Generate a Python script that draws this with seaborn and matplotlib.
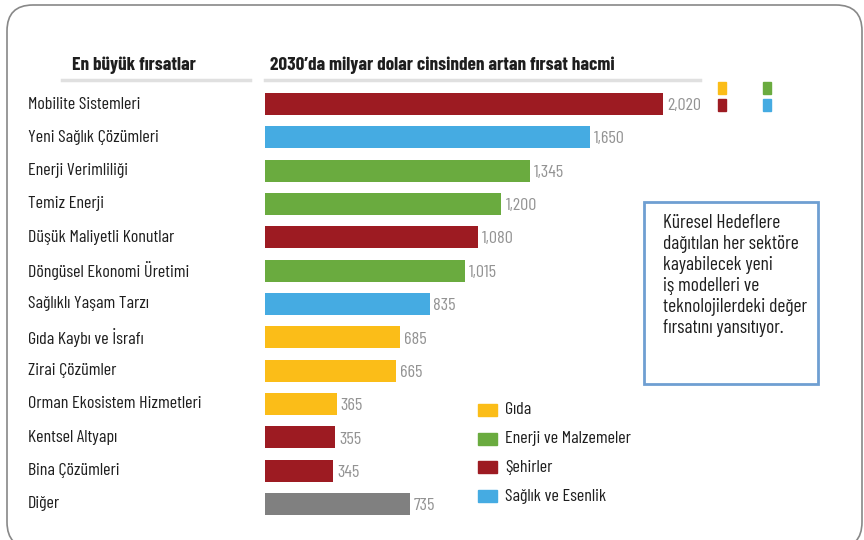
import matplotlib
matplotlib.use("Agg")
import matplotlib.pyplot as plt
from matplotlib.patches import FancyBboxPatch, Rectangle
import pandas as pd
import seaborn as sns

categories = [
    "Mobilite Sistemleri", "Yeni Sağlık Çözümleri", "Enerji Verimliliği",
    "Temiz Enerji", "Düşük Maliyetli Konutlar", "Döngüsel Ekonomi Üretimi",
    "Sağlıklı Yaşam Tarzı", "Gıda Kaybı ve İsrafı", "Zirai Çözümler",
    "Orman Ekosistem Hizmetleri", "Kentsel Altyapı", "Bina Çözümleri", "Diğer",
]
values = [2020, 1650, 1345, 1200, 1080, 1015, 835, 685, 665, 365, 355, 345, 735]
value_labels = ["2,020", "1,650", "1,345", "1,200", "1,080", "1,015", "835",
                "685", "665", "365", "355", "345", "735"]
sectors = ["Şehirler", "Sağlık ve Esenlik", "Enerji ve Malzemeler",
           "Enerji ve Malzemeler", "Şehirler", "Enerji ve Malzemeler",
           "Sağlık ve Esenlik", "Gıda", "Gıda", "Gıda", "Şehirler", "Şehirler",
           "Diğer"]
legend_names = ["Gıda", "Enerji ve Malzemeler", "Şehirler", "Sağlık ve Esenlik"]
colors = {"Gıda": "#fbbd18", "Enerji ve Malzemeler": "#6aab3f",
          "Şehirler": "#9d1b22", "Sağlık ve Esenlik": "#45abe2", "Diğer": "#808080"}

FONT = ["Barlow Condensed", "Roboto Condensed", "DejaVu Sans"]
plt.rcParams["font.family"] = FONT

df = pd.DataFrame({"kategori": categories, "deger": values, "sektor": sectors})

W, H = 864, 540
fig = plt.figure(figsize=(W / 100, H / 100), dpi=100)

def fx(px):
    return px / W

def fy(py):
    return 1 - py / H

ax = fig.add_axes([fx(265), fy(520.7), 1 - fx(265), fy(87.3) - fy(520.7)])
sns.barplot(data=df, y="kategori", x="deger", hue="sektor", palette=colors,
            dodge=False, width=0.66, saturation=1, legend=False, ax=ax)
ax.set_xlim(0, (W - 265) / (398 / 2020))
ax.set_ylim(len(categories) - 0.5, -0.5)
ax.axis("off")

for i, (v, lab) in enumerate(zip(values, value_labels)):
    ax.text(v + 20, i + 0.05, lab, va="center", ha="left", fontsize=13,
            color="#939393")

# category labels
for i, c in enumerate(categories):
    fig.text(fx(28), fy(104 + i * 33.33), c, ha="left", va="center",
             fontsize=13, color="#1e1e1e")

# headers
fig.text(fx(72), fy(65), "En büyük fırsatlar", ha="left", va="center",
         fontsize=13.8, fontweight="bold", color="#1e1e1e")
fig.text(fx(270), fy(65), "2030’da milyar dolar cinsinden artan fırsat hacmi",
         ha="left", va="center", fontsize=13.8, fontweight="bold", color="#1e1e1e")
fig.add_artist(plt.Line2D([fx(62), fx(250)], [fy(80), fy(80)], color="#e0e0e0", lw=2.5))
fig.add_artist(plt.Line2D([fx(265), fx(700)], [fy(80), fy(80)], color="#e0e0e0", lw=2.5))

# small colour squares top right
for (px, py), name in zip([(722, 88), (767, 88), (722, 105), (767, 105)],
                          ["Gıda", "Enerji ve Malzemeler", "Şehirler", "Sağlık ve Esenlik"]):
    fig.add_artist(Rectangle((fx(px - 4), fy(py + 6)), fx(8), 12 / H,
                             color=colors[name], transform=fig.transFigure))

# legend
for i, name in enumerate(legend_names):
    py = 410 + i * 28.7
    fig.add_artist(Rectangle((fx(478), fy(py + 6)), fx(19), 12 / H,
                             color=colors[name], transform=fig.transFigure))
    fig.text(fx(505), fy(py), name, ha="left", va="center", fontsize=13,
             color="#1e1e1e")

# note box
fig.add_artist(Rectangle((fx(644), fy(384)), fx(818 - 644), (384 - 202) / H,
                         fill=False, edgecolor="#6f9fd2", lw=2,
                         transform=fig.transFigure))
fig.text(fx(663), fy(214),
         "Küresel Hedeflere\ndağıtılan her sektöre\nkayabilecek yeni\n"
         "iş modelleri ve\nteknolojilerdeki değer\nfırsatını yansıtıyor.",
         ha="left", va="top", fontsize=14, color="#1e1e1e", linespacing=1.22)

# outer rounded frame
fig.add_artist(FancyBboxPatch((fx(7), fy(548)), fx(862 - 7), (548 - 5) / H,
                              boxstyle="round,pad=0,rounding_size=0.03",
                              fill=False, edgecolor="#888888", lw=1.2,
                              transform=fig.transFigure, mutation_aspect=W / H))

fig.savefig("out.png", dpi=100)
